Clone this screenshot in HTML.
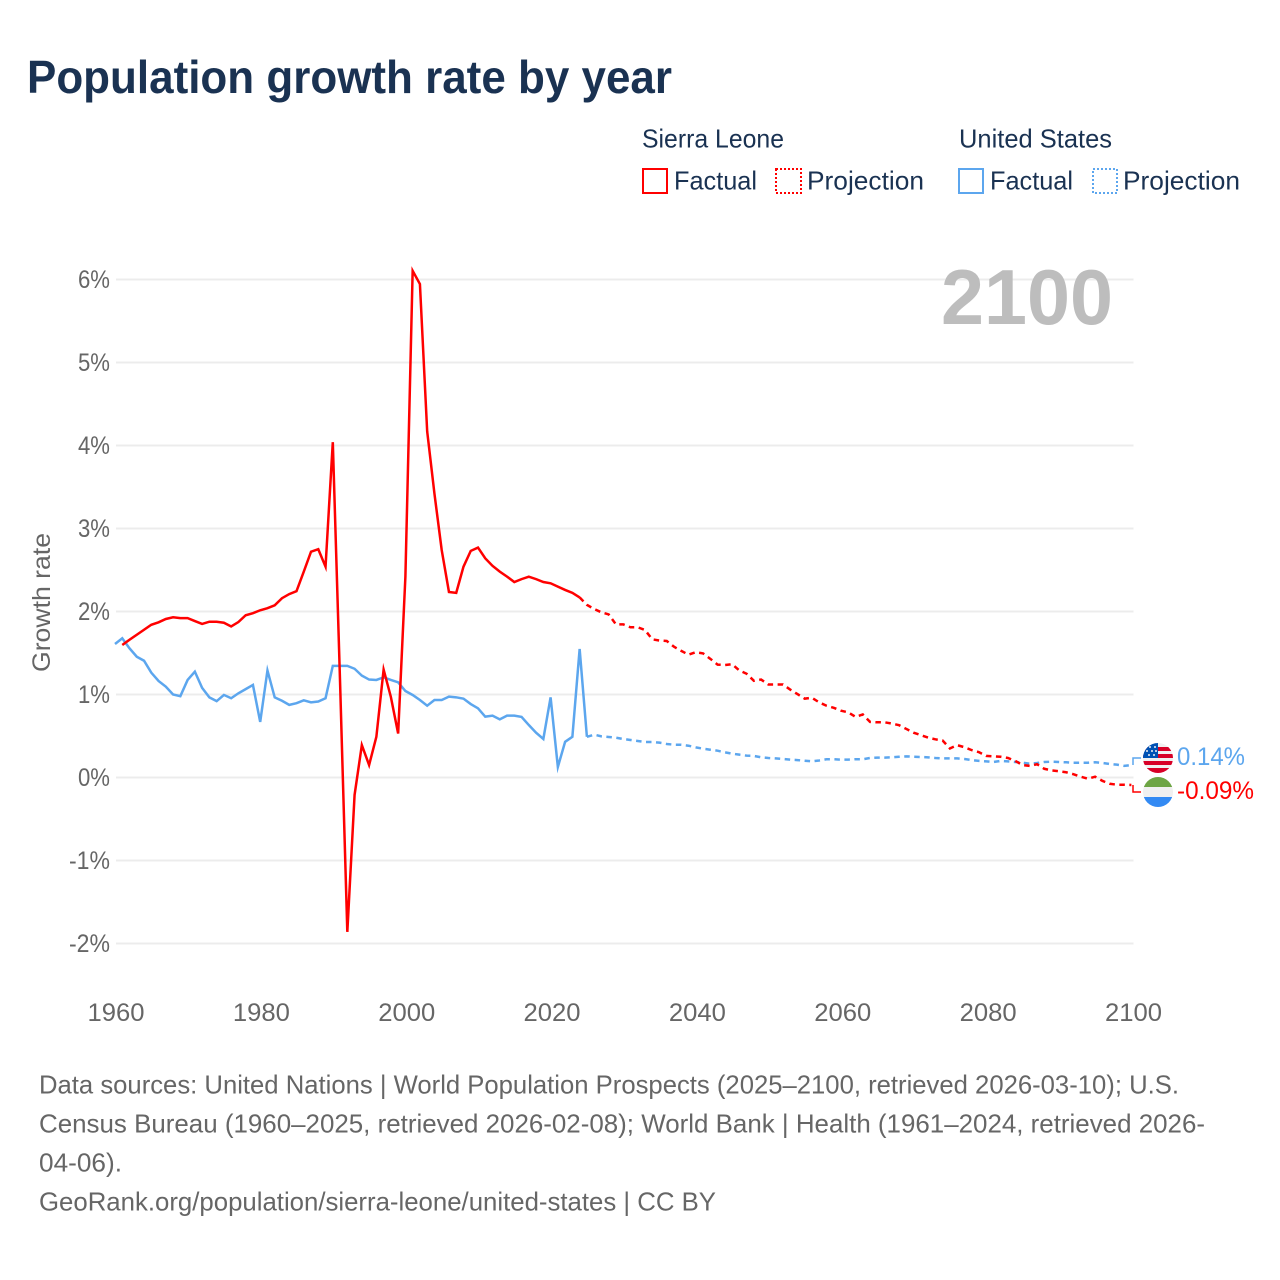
<!DOCTYPE html>
<html lang="en">
<head>
<meta charset="utf-8">
<title>Population growth rate by year</title>
<style>
html,body{margin:0;padding:0;background:#fff;width:1280px;height:1280px;overflow:hidden}
svg{display:block;font-family:"Liberation Sans",sans-serif}
</style>
</head>
<body>
<svg id="chart" xmlns="http://www.w3.org/2000/svg" width="1280" height="1280" viewBox="0 0 1280 1280">
  <defs>
    <clipPath id="flag-us-clip"><circle cx="1158" cy="758" r="15"/></clipPath>
    <clipPath id="flag-sl-clip"><circle cx="1158" cy="792" r="15"/></clipPath>
  </defs>
  <rect width="1280" height="1280" fill="#fff"/>
  <text x="27" y="93" font-size="46" font-weight="700" fill="#1a3252" textLength="645" lengthAdjust="spacingAndGlyphs">Population growth rate by year</text>

  <g font-size="26" fill="#1a3252">
    <text x="642" y="147.5" textLength="142" lengthAdjust="spacingAndGlyphs">Sierra Leone</text>
    <text x="959" y="147.5" textLength="153" lengthAdjust="spacingAndGlyphs">United States</text>
    <rect x="643" y="169" width="24" height="24" fill="none" stroke="#ff0000" stroke-width="2"/>
    <text x="674" y="189.5" textLength="83" lengthAdjust="spacingAndGlyphs">Factual</text>
    <rect x="776" y="169" width="25" height="24" fill="none" stroke="#ff0000" stroke-width="2" stroke-dasharray="2 2"/>
    <text x="807" y="189.5" textLength="117" lengthAdjust="spacingAndGlyphs">Projection</text>
    <rect x="959" y="169" width="24" height="24" fill="none" stroke="#5ca6ee" stroke-width="2"/>
    <text x="990" y="189.5" textLength="83" lengthAdjust="spacingAndGlyphs">Factual</text>
    <rect x="1093" y="169" width="24" height="24" fill="none" stroke="#5ca6ee" stroke-width="2" stroke-dasharray="2 2"/>
    <text x="1123" y="189.5" textLength="117" lengthAdjust="spacingAndGlyphs">Projection</text>
  </g>

  <text transform="translate(50,672) rotate(-90)" font-size="25" fill="#666" textLength="139" lengthAdjust="spacingAndGlyphs">Growth rate</text>

  <g id="grid"></g>
  <g id="y-ticks"></g>
  <g id="x-ticks"></g>

  <text x="941" y="324" font-size="78" font-weight="700" fill="#bdbdbd" textLength="172" lengthAdjust="spacingAndGlyphs">2100</text>

  <g id="series"></g>

  <g clip-path="url(#flag-us-clip)">
    <rect x="1143" y="743" width="30" height="30" fill="#f0f0f0"/>
    <rect x="1143" y="747" width="30" height="4" fill="#d80027"/>
    <rect x="1143" y="754" width="30" height="4" fill="#d80027"/>
    <rect x="1143" y="761" width="30" height="4" fill="#d80027"/>
    <rect x="1143" y="768" width="30" height="5" fill="#d80027"/>
    <rect x="1143" y="743" width="15" height="15" fill="#0052b4"/>
    <g fill="#f0f0f0">
      <circle cx="1150" cy="747" r="1"/><circle cx="1155" cy="747" r="1"/>
      <circle cx="1147" cy="751" r="1"/><circle cx="1152" cy="751" r="1"/><circle cx="1156" cy="751" r="1"/>
      <circle cx="1149" cy="755" r="1"/><circle cx="1154" cy="755" r="1"/>
    </g>
  </g>
  <g clip-path="url(#flag-sl-clip)">
    <rect x="1143" y="777" width="30" height="10" fill="#6da544"/>
    <rect x="1143" y="787" width="30" height="10" fill="#f0f0f0"/>
    <rect x="1143" y="797" width="30" height="10" fill="#338af3"/>
  </g>

  <text x="1177" y="765" font-size="25" fill="#5ca6ee" textLength="68" lengthAdjust="spacingAndGlyphs">0.14%</text>
  <text x="1177" y="799" font-size="25" fill="#ff0000" textLength="77" lengthAdjust="spacingAndGlyphs">-0.09%</text>

  <g font-size="26" fill="#666">
    <text x="39" y="1093.5" textLength="1140" lengthAdjust="spacingAndGlyphs">Data sources: United Nations | World Population Prospects (2025–2100, retrieved 2026-03-10); U.S.</text>
    <text x="39" y="1132.5" textLength="1166" lengthAdjust="spacingAndGlyphs">Census Bureau (1960–2025, retrieved 2026-02-08); World Bank | Health (1961–2024, retrieved 2026-</text>
    <text x="39" y="1171.5" textLength="83" lengthAdjust="spacingAndGlyphs">04-06).</text>
    <text x="39" y="1210.5" textLength="677" lengthAdjust="spacingAndGlyphs">GeoRank.org/population/sierra-leone/united-states | CC BY</text>
  </g>
</svg>
<script>
const xTickYears = [1960, 1980, 2000, 2020, 2040, 2060, 2080, 2100];
const yTickValues = [-2, -1, 0, 1, 2, 3, 4, 5, 6];
const yTickLabels = ["-2%", "-1%", "0%", "1%", "2%", "3%", "4%", "5%", "6%"];

const sierraFactualStart = 1961;
const sierraFactual = [1.596,1.66,1.72,1.78,1.84,1.87,1.91,1.93,1.92,1.92,1.885,1.85,1.877,1.877,1.865,1.82,1.873,1.955,1.98,2.015,2.04,2.075,2.16,2.21,2.245,2.48,2.72,2.75,2.54,4.04,1.15,-1.86,-0.21,0.39,0.15,0.49,1.30,0.97,0.53,2.42,6.105,5.945,4.17,3.42,2.74,2.235,2.225,2.54,2.73,2.77,2.64,2.55,2.48,2.42,2.355,2.39,2.42,2.39,2.355,2.34,2.30,2.26,2.225,2.17];

const sierraProjectionStart = 2024;
const sierraProjection = [2.17,2.08,2.03,1.99,1.965,1.845,1.845,1.81,1.81,1.777,1.665,1.65,1.645,1.575,1.525,1.48,1.51,1.495,1.43,1.36,1.355,1.365,1.29,1.25,1.165,1.18,1.12,1.12,1.12,1.06,1.005,0.95,0.96,0.905,0.865,0.84,0.805,0.785,0.73,0.76,0.67,0.665,0.665,0.65,0.63,0.585,0.54,0.51,0.48,0.46,0.445,0.35,0.39,0.365,0.33,0.305,0.26,0.255,0.25,0.235,0.2,0.15,0.14,0.16,0.105,0.085,0.075,0.063,0.04,0.01,-0.015,0.01,-0.04,-0.075,-0.087,-0.087,-0.09];

const usFactualStart = 1960;
const usFactual = [1.608,1.677,1.556,1.455,1.407,1.263,1.163,1.095,1.0,0.98,1.175,1.275,1.08,0.965,0.92,0.995,0.955,1.015,1.065,1.115,0.67,1.29,0.965,0.925,0.875,0.895,0.93,0.905,0.915,0.955,1.345,1.345,1.345,1.31,1.227,1.18,1.175,1.207,1.175,1.147,1.042,0.994,0.934,0.865,0.934,0.934,0.974,0.966,0.95,0.885,0.833,0.733,0.745,0.70,0.745,0.745,0.73,0.632,0.54,0.464,0.966,0.127,0.43,0.49,1.548,0.49];

const usProjectionStart = 2025;
const usProjection = [0.49,0.516,0.496,0.488,0.48,0.464,0.452,0.44,0.428,0.428,0.42,0.404,0.395,0.395,0.383,0.363,0.347,0.335,0.323,0.303,0.287,0.275,0.263,0.26,0.243,0.235,0.23,0.223,0.215,0.21,0.202,0.195,0.205,0.22,0.22,0.215,0.215,0.22,0.22,0.235,0.24,0.24,0.243,0.25,0.255,0.25,0.247,0.243,0.235,0.23,0.23,0.23,0.223,0.21,0.2,0.195,0.187,0.2,0.195,0.187,0.178,0.166,0.175,0.187,0.19,0.187,0.183,0.178,0.178,0.178,0.183,0.175,0.163,0.155,0.14,0.15];

const SVG_NS = "http://www.w3.org/2000/svg";
const GRID_X0 = 116, GRID_X1 = 1133.5, Y0 = 777.5, Y_PER_PCT = 83;
function xScale(year) { return 115 + (year - 1960) * 7.26; }
function xLabelScale(year) { return GRID_X0 + (year - 1960) * (GRID_X1 - GRID_X0) / 140; }
function yScale(value) { return Y0 - value * Y_PER_PCT; }
function linePoints(startYear, values) {
  return values.map(function (v, i) {
    return xScale(startYear + i).toFixed(2) + "," + yScale(v).toFixed(2);
  }).join(" ");
}
function make(tag, attrs, text) {
  const el = document.createElementNS(SVG_NS, tag);
  Object.keys(attrs).forEach(function (k) { el.setAttribute(k, attrs[k]); });
  if (text !== undefined) el.textContent = text;
  return el;
}

const gridGroup = document.getElementById("grid");
const yTickGroup = document.getElementById("y-ticks");
const xTickGroup = document.getElementById("x-ticks");
const seriesGroup = document.getElementById("series");

yTickValues.forEach(function (v, i) {
  const line = make("line", { x1: GRID_X0, x2: GRID_X1, y1: yScale(v), y2: yScale(v), stroke: "#ececec", "stroke-width": 2 });
  
  
  gridGroup.appendChild(line);
  const labelWidth = v < 0 ? 41 : 32;
  const label = make("text", { x: 110 - labelWidth, y: yScale(v) + 8.5, "font-size": 25, fill: "#666", textLength: labelWidth, lengthAdjust: "spacingAndGlyphs" }, yTickLabels[i]);
  
  
  yTickGroup.appendChild(label);
});

xTickYears.forEach(function (year) {
  const label = make("text", { x: xLabelScale(year) - 28.5, y: 1021, "font-size": 25, fill: "#666", textLength: 57, lengthAdjust: "spacingAndGlyphs" }, String(year));
  
  
  xTickGroup.appendChild(label);
});

function drawLine(startYear, values, color, dashed) {
  const attrs = { points: linePoints(startYear, values), fill: "none", stroke: color, "stroke-width": 2.5, "stroke-linejoin": "miter", "stroke-miterlimit": 6 };
  if (dashed) attrs["stroke-dasharray"] = "5.5 4.5";
  const line = make("polyline", attrs);
  return line;
}

const usFactualLine = drawLine(usFactualStart, usFactual, "#5ca6ee", false);


seriesGroup.appendChild(usFactualLine);

const usProjectionLine = drawLine(usProjectionStart, usProjection, "#5ca6ee", true);


seriesGroup.appendChild(usProjectionLine);

const sierraFactualLine = drawLine(sierraFactualStart, sierraFactual, "#ff0000", false);


seriesGroup.appendChild(sierraFactualLine);

const sierraProjectionLine = drawLine(sierraProjectionStart, sierraProjection, "#ff0000", true);


seriesGroup.appendChild(sierraProjectionLine);

const usEndY = yScale(usProjection[usProjection.length - 1]);
const usConnector = make("polyline", { points: "1133," + usEndY + " 1133,758 1141,758", fill: "none", stroke: "#5ca6ee", "stroke-width": 1.5 });


seriesGroup.appendChild(usConnector);

const sierraEndY = yScale(sierraProjection[sierraProjection.length - 1]);
const sierraConnector = make("polyline", { points: "1133," + sierraEndY + " 1133,792 1141,792", fill: "none", stroke: "#ff0000", "stroke-width": 1.5 });


seriesGroup.appendChild(sierraConnector);
</script>
</body>
</html>
